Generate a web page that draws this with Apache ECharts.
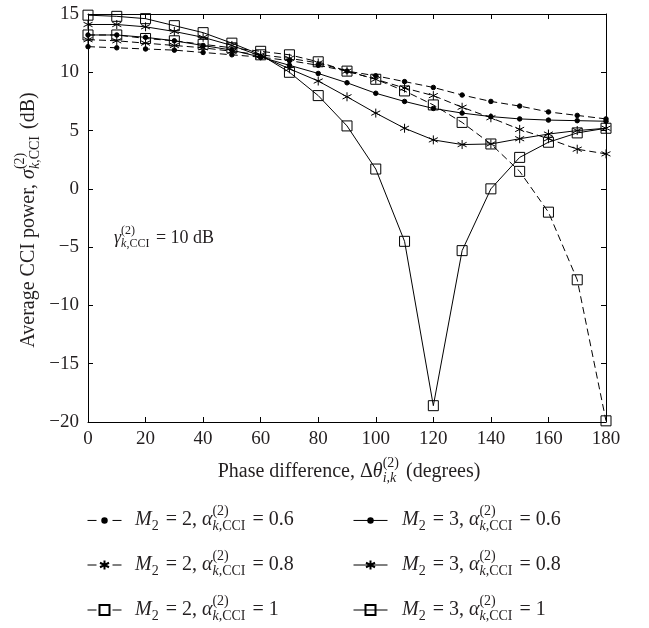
<!DOCTYPE html>
<html>
<head>
<meta charset="utf-8">
<title>Average CCI power vs phase difference</title>
<script src="https://cdn.jsdelivr.net/npm/echarts@6/dist/echarts.min.js"></script>
<style>
  html, body { margin: 0; padding: 0; background: #fff; }
  #chart { width: 649px; height: 628px; }
</style>
</head>
<body>
<div id="chart"></div>
<script>
// phase difference in degrees
const phase = [0, 10, 20, 30, 40, 50, 60, 70, 80, 90, 100, 110, 120, 130, 140, 150, 160, 170, 180];

// M2 = 2 (dashed lines)
const m2Alpha06 = [12.2, 12.1, 12.0, 11.9, 11.7, 11.5, 11.3, 11.0, 10.6, 10.1, 9.7, 9.2, 8.7, 8.05, 7.5, 7.1, 6.6, 6.3, 6.0];
const m2Alpha08 = [12.8, 12.7, 12.5, 12.3, 12.1, 11.8, 11.5, 11.2, 10.8, 10.1, 9.4, 8.65, 8.0, 7.0, 6.1, 5.1, 4.3, 3.4, 3.0];
const m2Alpha1 = [13.2, 13.2, 12.9, 12.7, 12.4, 12.1, 11.8, 11.5, 10.9, 10.1, 9.4, 8.4, 7.2, 5.7, 3.85, 1.5, -2.0, -7.8, -19.9];

// M2 = 3 (solid lines)
const m3Alpha06 = [13.2, 13.2, 13.0, 12.7, 12.3, 11.9, 11.3, 10.6, 9.9, 9.1, 8.2, 7.5, 6.9, 6.5, 6.2, 6.0, 5.9, 5.85, 5.8];
const m3Alpha08 = [14.1, 14.1, 13.9, 13.5, 13.0, 12.3, 11.4, 10.3, 9.25, 7.9, 6.5, 5.2, 4.2, 3.8, 3.85, 4.3, 4.7, 5.0, 5.2];
const m3Alpha1 = [14.9, 14.8, 14.6, 14.0, 13.4, 12.5, 11.5, 10.0, 8.0, 5.4, 1.7, -4.5, -18.6, -5.3, 0.0, 2.7, 4.0, 4.8, 5.2];

// axis ticks: [min, max, step]
const xTicks = [0, 180, 20];
const yTicks = [-20, 15, 5];

const FONT = '"Liberation Serif", "DejaVu Serif", serif';
const TEXT = '#231f20';
const ASTERISK = 'path://M0,-1L0,1M-0.866,-0.5L0.866,0.5M-0.866,0.5L0.866,-0.5';

const chart = echarts.init(document.getElementById('chart'));

// text measuring, so sup/sub scripts can be stacked like in the paper
const ctx = document.createElement('canvas').getContext('2d');
function fontOf(size, it) {
  return (it ? 'italic ' : '') + size + 'px ' + FONT;
}
function measure(t, size, it) {
  ctx.font = fontOf(size, it);
  return ctx.measureText(t).width;
}

function mathText(parts, size) {
  const small = Math.round(size * 0.68);
  const out = [];
  let x = 0;
  const put = (pieces, x0, dy, sz) => {
    let xx = x0;
    pieces.forEach(p => {
      out.push({
        type: 'text', x: xx, y: dy, silent: true,
        style: { text: p.t, font: fontOf(sz, p.it), fill: TEXT, align: 'left', verticalAlign: 'middle', textAlign: 'left', textVerticalAlign: 'middle' }
      });
      xx += measure(p.t, sz, p.it);
    });
    return xx - x0;
  };
  parts.forEach(p => {
    if (p.t != null) {
      x += put([p], x, 0, size);
    } else {
      const w1 = p.sup ? put(p.sup, x, -size * 0.42, small) : 0;
      const w2 = p.sub ? put(p.sub, x, size * 0.33, small) : 0;
      x += Math.max(w1, w2) + 2;
    }
  });
  return { children: out, width: x };
}

function label(parts, size, opt) {
  const m = mathText(parts, size);
  const shift = opt.center ? -m.width / 2 : 0;
  m.children.forEach(c => { c.x += shift; });
  return { type: 'group', x: opt.x, y: opt.y, rotation: opt.rotation || 0, silent: true, children: m.children };
}

const alphaParts = (m, a) => [
  { t: 'M', it: 1 }, { sub: [{ t: '2' }] }, { t: ' = ' + m + ', ' },
  { t: 'α', it: 1 }, { sup: [{ t: '(2)' }], sub: [{ t: 'k', it: 1 }, { t: ',CCI' }] },
  { t: ' = ' + a }
];

const seriesDefs = [
  { name: 'M2 = 2, α = 0.6', data: m2Alpha06, dashed: true, symbol: 'circle', size: 4.5, m: 2, a: '0.6' },
  { name: 'M2 = 2, α = 0.8', data: m2Alpha08, dashed: true, symbol: ASTERISK, size: 9, m: 2, a: '0.8' },
  { name: 'M2 = 2, α = 1', data: m2Alpha1, dashed: true, symbol: 'rect', size: 10, m: 2, a: '1' },
  { name: 'M2 = 3, α = 0.6', data: m3Alpha06, dashed: false, symbol: 'circle', size: 4.5, m: 3, a: '0.6' },
  { name: 'M2 = 3, α = 0.8', data: m3Alpha08, dashed: false, symbol: ASTERISK, size: 9, m: 3, a: '0.8' },
  { name: 'M2 = 3, α = 1', data: m3Alpha1, dashed: false, symbol: 'rect', size: 10, m: 3, a: '1' }
];

const series = seriesDefs.map(d => ({
  name: d.name,
  type: 'line',
  data: phase.map((x, i) => [x, d.data[i]]),
  symbol: d.symbol,
  symbolSize: d.size,
  showAllSymbol: true,
  lineStyle: { color: '#000', width: 1, type: d.dashed ? [7, 4] : 'solid' },
  itemStyle: {
    color: d.symbol === 'rect' ? 'rgba(0,0,0,0)' : '#000',
    borderColor: '#000',
    borderWidth: 1
  },
  emphasis: { disabled: true }
}));

// legend: one small legend per row so each icon keeps its own marker size
const legendRowY = [520, 565, 610];
const legendColX = [87, 353];
const legendTextX = [135, 402];
const legends = [];
const graphics = [];
seriesDefs.forEach((d, i) => {
  const col = d.dashed ? 0 : 1;
  const row = i % 3;
  const h = d.size / 0.8;
  legends.push({
    data: [d.name],
    orient: 'vertical',
    left: legendColX[col],
    top: legendRowY[row] - h / 2,
    padding: 0,
    itemWidth: 34,
    itemHeight: h,
    selectedMode: false,
    formatter: () => '',
    lineStyle: d.dashed ? { type: [9, 16], width: 1 } : { width: 1 }
  });
  graphics.push(label(alphaParts(d.m, d.a), 20, { x: legendTextX[col], y: legendRowY[row] }));
});

// axis titles and the annotation
graphics.push(label([
  { t: 'Average CCI power, ' }, { t: 'σ', it: 1 },
  { sup: [{ t: '(2)' }], sub: [{ t: 'k', it: 1 }, { t: ',CCI' }] }, { t: ' (dB)' }
], 20, { x: 29, y: 220, rotation: Math.PI / 2, center: true }));

graphics.push(label([
  { t: 'Phase difference, Δ' }, { t: 'θ', it: 1 },
  { sup: [{ t: '(2)' }], sub: [{ t: 'i,k', it: 1 }] }, { t: ' (degrees)' }
], 20, { x: 349, y: 472, center: true }));

graphics.push(label([
  { t: 'γ', it: 1 }, { sup: [{ t: '(2)' }], sub: [{ t: 'k', it: 1 }, { t: ',CCI' }] }, { t: ' = 10 dB' }
], 18, { x: 114, y: 238 }));

const axisLine = { show: true, onZero: false, lineStyle: { color: '#000', width: 1 } };
const axisTick = { show: true, inside: true, length: 5, lineStyle: { color: '#000', width: 1 } };
const tickLabel = {
  fontSize: 19, fontFamily: FONT, color: TEXT,
  formatter: v => String(v).replace('-', '\u2212')
};

const option = {
  animation: false,
  backgroundColor: '#fff',
  grid: { left: 88, top: 14, width: 518, height: 408, containLabel: false },
  xAxis: [
    { type: 'value', min: xTicks[0], max: xTicks[1], interval: xTicks[2], position: 'bottom',
      axisLine, axisTick, axisLabel: Object.assign({ margin: 8 }, tickLabel), splitLine: { show: false } },
    { type: 'value', min: xTicks[0], max: xTicks[1], interval: xTicks[2], position: 'top',
      axisLine, axisTick, axisLabel: { show: false }, splitLine: { show: false } }
  ],
  yAxis: [
    { type: 'value', min: yTicks[0], max: yTicks[1], interval: yTicks[2], position: 'left',
      axisLine, axisTick, axisLabel: Object.assign({ margin: 9 }, tickLabel), splitLine: { show: false } },
    { type: 'value', min: yTicks[0], max: yTicks[1], interval: yTicks[2], position: 'right',
      axisLine, axisTick, axisLabel: { show: false }, splitLine: { show: false } }
  ],
  legend: legends,
  series: series,
  graphic: graphics
};

chart.setOption(option);
</script>
</body>
</html>
